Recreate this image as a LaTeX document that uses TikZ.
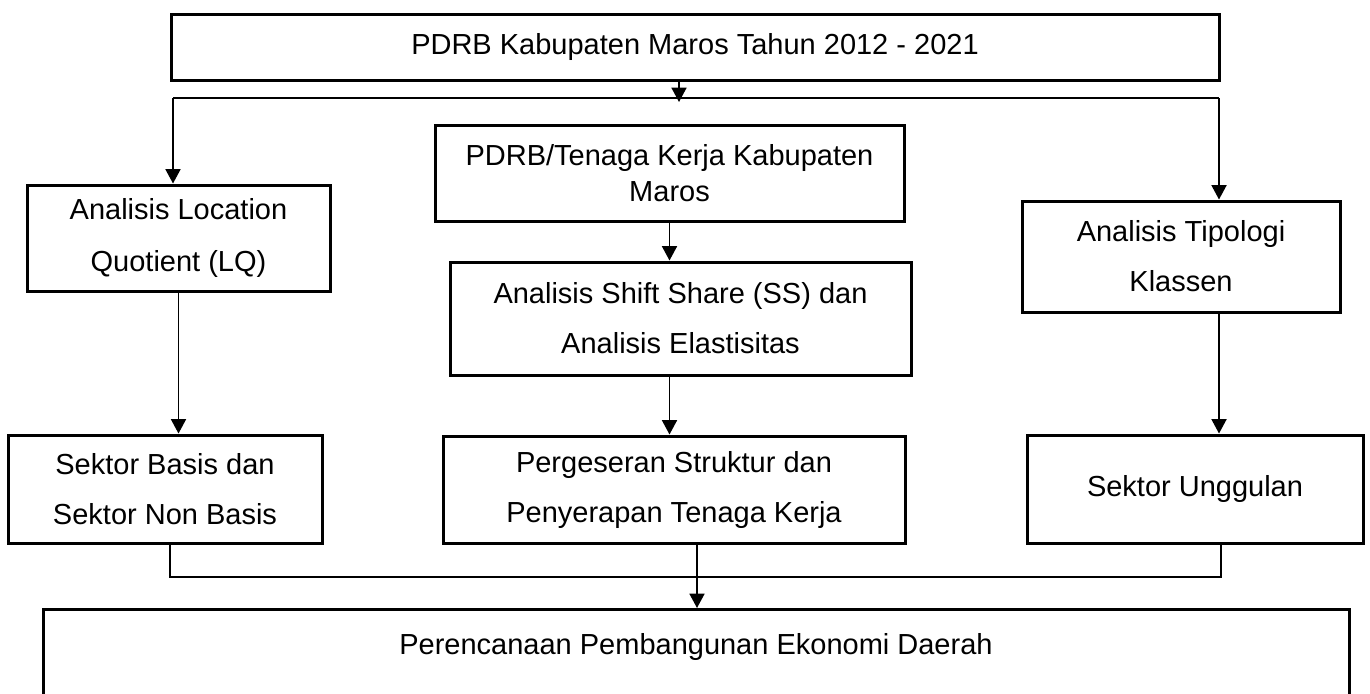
\documentclass[tikz,border=0pt]{standalone}
\usepackage{fontspec}
\setmainfont{Liberation Sans}
\usetikzlibrary{arrows.meta,calc}
\begin{document}
\begin{tikzpicture}[x=0.5pt,y=-0.5pt,
  box/.style={draw=black,line width=1.5pt,inner sep=0pt,align=center},
  conn/.style={draw=black,line width=0.9pt},
  arr/.style={-{Triangle[width=7.5pt,length=7.2pt]}},
  txt/.style={font=\fontsize{14.5}{25}\selectfont}]
\useasboundingbox (0,0) rectangle (1370,693);
\node[box,txt,minimum width=524pt,minimum height=33pt] (top) at (695,47) {PDRB Kabupaten Maros Tahun 2012 - 2021};
\node[box,txt,font=\fontsize{14.5}{26}\selectfont,minimum width=151.5pt,minimum height=53pt] (lq) at (178.5,238) {Analisis Location\\Quotient (LQ)};
\node[box,txt,font=\fontsize{14.5}{18}\selectfont,minimum width=234.5pt,minimum height=48pt] (pdrbtk) at (669.5,173) {PDRB/Tenaga Kerja Kabupaten\\Maros};
\node[box,txt,minimum width=230.5pt,minimum height=56.5pt] (ss) at (680.5,318.5) {Analisis Shift Share (SS) dan\\Analisis Elastisitas};
\node[box,txt,minimum width=159pt,minimum height=55.5pt] (tip) at (1181,256.5) {Analisis Tipologi\\Klassen};
\node[box,txt,minimum width=157pt,minimum height=54pt] (basis) at (165,489) {Sektor Basis dan\\Sektor Non Basis};
\node[box,txt,minimum width=231pt,minimum height=53.5pt] (perg) at (674,489.5) {Pergeseran Struktur dan\\Penyerapan Tenaga Kerja};
\node[box,txt,minimum width=168pt,minimum height=54pt] (ung) at (1195,489) {Sektor Unggulan};
\node[box,minimum width=653pt,minimum height=50pt,anchor=north] (plan) at (696,608) {};
\node[txt] (plantext) at (696,647) {Perencanaan Pembangunan Ekonomi Daerah};
% top distribution
\coordinate (hl) at (173,98);
\coordinate (hr) at (1219,98);
\coordinate (hm) at (679,98);
\coordinate (hmtip) at (679,102);
\draw[conn,arr] (top.south -| hm) -- (hmtip);
\draw[conn] (hl) -- (hr);
\draw[conn,arr] (hl) -- (hl |- lq.north);
\draw[conn,arr] (hr) -- (hr |- tip.north);
% vertical flows
\draw[conn,arr] (lq.south) -- (lq.south |- basis.north);
\draw[conn,arr] (pdrbtk.south) -- (pdrbtk.south |- ss.north);
\draw[conn,arr] (ss.south -| pdrbtk.south) -- (pdrbtk.south |- perg.north);
\draw[conn,arr] (tip.south -| hr) -- (ung.north -| hr);
% bottom collection
\coordinate (bl) at (170,577);
\coordinate (br) at (1221,577);
\coordinate (bm) at (697,577);
\draw[conn] (basis.south -| bl) -- (bl) -- (br) -- (ung.south -| br);
\draw[conn] (perg.south -| bm) -- (bm);
\draw[conn,arr] (bm) -- (plan.north -| bm);
\end{tikzpicture}
\end{document}
